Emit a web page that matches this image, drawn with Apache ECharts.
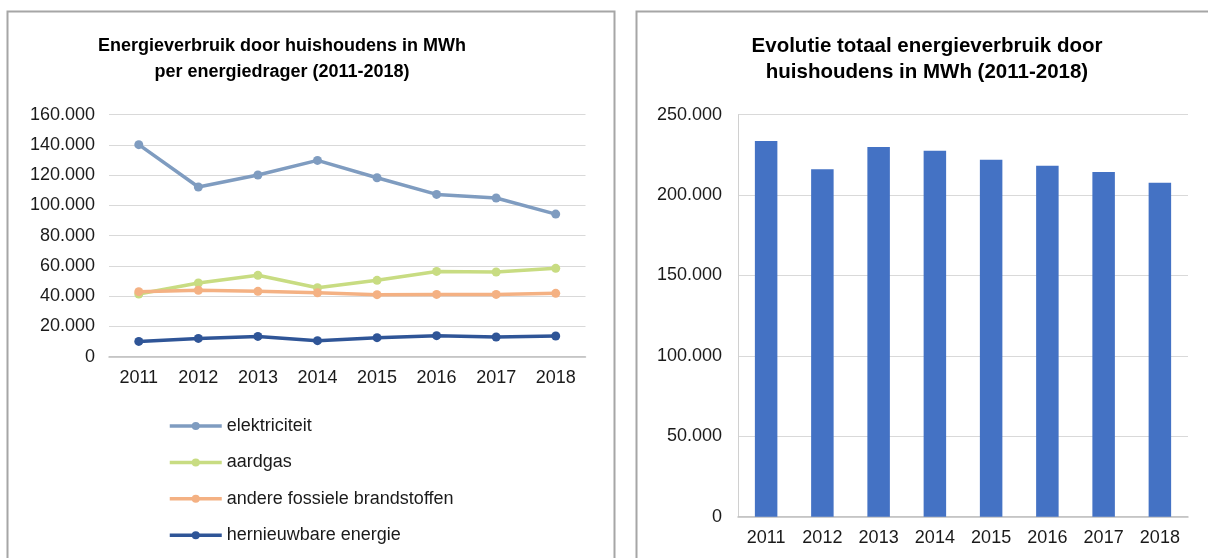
<!DOCTYPE html>
<html>
<head>
<meta charset="utf-8">
<script src="https://cdn.jsdelivr.net/npm/echarts@6/dist/echarts.min.js"></script>
<style>
html,body{margin:0;padding:0;background:#fff;}
#c{width:1208px;height:558px;}
</style>
</head>
<body>
<div id="c"></div>
<script>
const years = ['2011','2012','2013','2014','2015','2016','2017','2018'];
const elektriciteit = [140200, 112200, 120100, 129800, 118300, 107300, 104900, 94300];
const aardgas = [41400, 48700, 53800, 45600, 50500, 56400, 56000, 58400];
const andereFossiel = [43000, 43900, 43200, 42300, 41000, 41200, 41200, 41900];
const hernieuwbaar = [10100, 12100, 13400, 10600, 12600, 13900, 13000, 13700];
const totaal = [233600, 216000, 229900, 227600, 222000, 218300, 214300, 207700];
const leftYTicks = {min: 0, max: 160000, interval: 20000};
const rightYTicks = {min: 0, max: 250000, interval: 50000};

const seriesNames = ['elektriciteit','aardgas','andere fossiele brandstoffen','hernieuwbare energie'];
const seriesData = [elektriciteit, aardgas, andereFossiel, hernieuwbaar];
const seriesColors = ['#7f9cc0','#c8dc82','#f4b183','#2f5597'];

const FONT = "'Liberation Sans', Arial, sans-serif";
const fmt = v => String(v).replace(/\B(?=(\d{3})+(?!\d))/g, '.');

const chart = echarts.init(document.getElementById('c'), null, {renderer:'canvas'});

const lineSeries = seriesNames.map((n, i) => ({
  name: n,
  type: 'line',
  xAxisIndex: 0, yAxisIndex: 0,
  data: seriesData[i],
  symbol: 'circle',
  symbolSize: 9,
  lineStyle: {width: 3.5, color: seriesColors[i]},
  itemStyle: {color: seriesColors[i]},
  emphasis: {disabled: true},
  animation: false
}));

const axisLabelStyle = {fontFamily: FONT, fontSize: 18, color: '#1a1a1a'};

chart.setOption({
  animation: false,
  title: [
    {text: 'Energieverbruik door huishoudens in MWh\nper energiedrager (2011-2018)',
     left: 277, top: 28, textAlign: 'center',
     textStyle: {fontFamily: FONT, fontSize: 18, fontWeight: 'bold', color: '#000', lineHeight: 26}},
    {text: 'Evolutie totaal energieverbruik door\nhuishoudens in MWh (2011-2018)',
     left: 922, top: 28, textAlign: 'center',
     textStyle: {fontFamily: FONT, fontSize: 20.5, fontWeight: 'bold', color: '#000', lineHeight: 26}}
  ],
  legend: {
    orient: 'vertical',
    left: 163, top: 412, height: 300,
    itemWidth: 52, itemHeight: 10, itemGap: 18.4,
    data: seriesNames,
    lineStyle: {width: 3.5},
    textStyle: {fontFamily: FONT, fontSize: 18, color: '#1a1a1a'},
    selectedMode: false
  },
  graphic: [
    {type: 'rect', shape: {x: 7.5, y: 11.5, width: 607, height: 620}, style: {fill: 'none', stroke: '#a6a6a6', lineWidth: 2}, silent: true},
    {type: 'rect', shape: {x: 636.5, y: 11.5, width: 620, height: 620}, style: {fill: 'none', stroke: '#a6a6a6', lineWidth: 2}, silent: true}
  ],
  grid: [
    {left: 109, right: 1208 - 585.5, top: 114.7, bottom: 558 - 356.7},
    {left: 738, right: 1208 - 1188, top: 114.7, bottom: 558 - 516.7}
  ],
  xAxis: [
    {type: 'category', gridIndex: 0, data: years, boundaryGap: true,
     axisLine: {show: true, lineStyle: {color: '#bfbfbf', width: 1.5}},
     axisTick: {show: false},
     axisLabel: Object.assign({margin: 12}, axisLabelStyle)},
    {type: 'category', gridIndex: 1, data: years, boundaryGap: true,
     axisLine: {show: true, lineStyle: {color: '#bfbfbf', width: 1.5}},
     axisTick: {show: false},
     axisLabel: Object.assign({margin: 12}, axisLabelStyle)}
  ],
  yAxis: [
    {type: 'value', gridIndex: 0, min: leftYTicks.min, max: leftYTicks.max, interval: leftYTicks.interval,
     axisLine: {show: false}, axisTick: {show: false},
     splitLine: {lineStyle: {color: '#d9d9d9', width: 1}},
     axisLabel: Object.assign({margin: 14, formatter: fmt}, axisLabelStyle)},
    {type: 'value', gridIndex: 1, min: rightYTicks.min, max: rightYTicks.max, interval: rightYTicks.interval,
     axisLine: {show: true, lineStyle: {color: '#d0d0d0', width: 1}}, axisTick: {show: false},
     splitLine: {lineStyle: {color: '#d9d9d9', width: 1}},
     axisLabel: Object.assign({margin: 16, formatter: fmt}, axisLabelStyle)}
  ],
  series: lineSeries.concat([
    {name: 'totaal', type: 'bar', xAxisIndex: 1, yAxisIndex: 1, data: totaal,
     barWidth: '40%', itemStyle: {color: '#4472c4'}, emphasis: {disabled: true}}
  ])
});
</script>
</body>
</html>
